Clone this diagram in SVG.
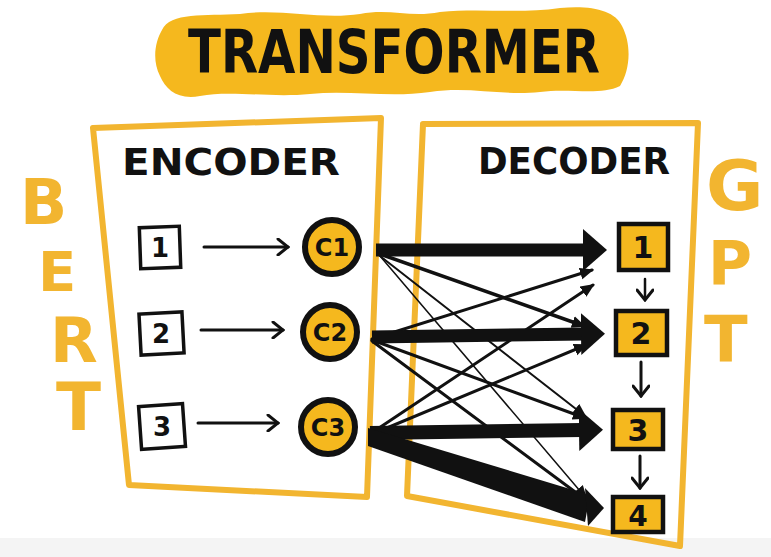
<svg xmlns="http://www.w3.org/2000/svg" width="771" height="557" viewBox="0 0 771 557">
<style>
.frame{fill:none;stroke:#F2B530;stroke-width:6;stroke-linejoin:round}
.brush{font-family:"DejaVu Sans","Liberation Sans",sans-serif;font-weight:bold;fill:#111}
.yl{font-family:"DejaVu Sans","Liberation Sans",sans-serif;font-weight:bold;fill:#F2B530}
.inbox{fill:#fff;stroke:#111;stroke-width:3.5}
.outbox{fill:#F5B81E;stroke:#111;stroke-width:4.5}
.circ{fill:#F5B81E;stroke:#111;stroke-width:6}
.thin{stroke:#111;fill:none;stroke-linecap:round}
.thick{stroke:#111;fill:none}
</style>
<defs>
<marker id="big" markerUnits="userSpaceOnUse" markerWidth="24" markerHeight="42" viewBox="0 0 24 42" refX="3" refY="21" orient="auto">
<path d="M0,0 L24,21 L0,42 z" fill="#111"/>
</marker>
<marker id="mid" markerUnits="userSpaceOnUse" markerWidth="14" markerHeight="14" viewBox="0 0 14 14" refX="12" refY="7" orient="auto">
<path d="M0,1 L14,7 L0,13 z" fill="#111"/>
</marker>
<marker id="open" markerUnits="userSpaceOnUse" markerWidth="14" markerHeight="18" viewBox="0 0 14 18" refX="12" refY="9" orient="auto">
<path d="M2,1 L12,9 L2,17" fill="none" stroke="#111" stroke-width="3" stroke-linecap="round"/>
</marker>
</defs>
<rect width="771" height="557" fill="#fff"/>
<rect x="0" y="538" width="771" height="19" fill="#f4f4f4"/>

<g id="title">
<path d="M162,30 C170,12 205,16 240,14 C280,8 320,20 360,14 C390,8 410,18 440,12 C480,8 520,14 560,8 C590,5 615,10 622,26 C632,45 630,70 620,86 C600,96 570,88 540,92 C500,96 470,86 430,92 C390,98 350,90 310,94 C270,98 230,90 200,96 C178,100 166,90 160,76 C152,60 155,42 162,30 z" fill="#F5B81E"/>
<text class="brush" x="188" y="73" font-size="60" textLength="412" lengthAdjust="spacingAndGlyphs">TRANSFORMER</text>
</g>

<g id="encoder">
<path class="frame" d="M93,128 L381,118 L367,497 L129,485 z"/>
<text class="brush" x="122" y="175" font-size="38" textLength="218" lengthAdjust="spacingAndGlyphs">ENCODER</text>
</g>
<g id="decoder">
<path class="frame" d="M423,124 L698,123 L680,546 L407,496 z"/>
<text class="brush" x="478" y="174" font-size="38" textLength="192" lengthAdjust="spacingAndGlyphs">DECODER</text>
</g>

<g id="bert">
<text class="yl" x="20" y="224" font-size="62">B</text>
<text class="yl" x="38" y="291" font-size="56">E</text>
<text class="yl" x="50" y="362" font-size="62">R</text>
<text class="yl" x="56" y="430" font-size="66">T</text>
</g>
<g id="gpt">
<text class="yl" x="706" y="210" font-size="70">G</text>
<text class="yl" x="708" y="284" font-size="60">P</text>
<text class="yl" x="704" y="362" font-size="64">T</text>
</g>

<g id="in1"><rect class="inbox" x="140" y="227" width="40" height="41" transform="rotate(-2 160 247)"/><text class="brush" x="160" y="257" font-size="26" text-anchor="middle">1</text></g>
<g id="in2"><rect class="inbox" x="140" y="313" width="43" height="41" transform="rotate(-3 161 333)"/><text class="brush" x="161" y="343" font-size="26" text-anchor="middle">2</text></g>
<g id="in3"><rect class="inbox" x="140" y="405" width="44" height="43" transform="rotate(-4 162 426)"/><text class="brush" x="162" y="436" font-size="26" text-anchor="middle">3</text></g>

<g id="c1"><circle class="circ" cx="332" cy="247" r="27"/><text class="brush" x="332" y="256" font-size="24" text-anchor="middle">C1</text></g>
<g id="c2"><circle class="circ" cx="330" cy="332" r="27"/><text class="brush" x="330" y="341" font-size="24" text-anchor="middle">C2</text></g>
<g id="c3"><circle class="circ" cx="328" cy="427" r="27"/><text class="brush" x="328" y="436" font-size="24" text-anchor="middle">C3</text></g>

<g id="out1"><rect class="outbox" x="619" y="224" width="49" height="46"/><text class="brush" x="643" y="258" font-size="30" text-anchor="middle">1</text></g>
<g id="out2"><rect class="outbox" x="616" y="311" width="51" height="44"/><text class="brush" x="641" y="344" font-size="30" text-anchor="middle">2</text></g>
<g id="out3"><rect class="outbox" x="613" y="410" width="50" height="39"/><text class="brush" x="638" y="441" font-size="30" text-anchor="middle">3</text></g>
<g id="out4"><rect class="outbox" x="613" y="497" width="50" height="35"/><text class="brush" x="638" y="526" font-size="28" text-anchor="middle">4</text></g>

<g id="connectors">
<line class="thin" x1="204" y1="247" x2="288" y2="247" stroke-width="3" marker-end="url(#open)"/>
<line class="thin" x1="201" y1="330" x2="283" y2="330" stroke-width="3" marker-end="url(#open)"/>
<line class="thin" x1="198" y1="423" x2="278" y2="423" stroke-width="3" marker-end="url(#open)"/>

<line class="thin" x1="380" y1="254" x2="584" y2="326" stroke-width="3.5" marker-end="url(#mid)"/>
<line class="thin" x1="380" y1="256" x2="585" y2="416" stroke-width="2" marker-end="url(#mid)"/>
<line class="thin" x1="380" y1="256" x2="586" y2="498" stroke-width="1.5" marker-end="url(#mid)"/>
<line class="thin" x1="372" y1="339" x2="592" y2="270" stroke-width="3" marker-end="url(#mid)"/>
<line class="thin" x1="372" y1="340" x2="585" y2="418" stroke-width="3" marker-end="url(#mid)"/>
<line class="thin" x1="372" y1="341" x2="586" y2="500" stroke-width="3" marker-end="url(#mid)"/>
<line class="thin" x1="370" y1="434" x2="593" y2="285" stroke-width="3" marker-end="url(#mid)"/>
<line class="thin" x1="370" y1="435" x2="586" y2="345" stroke-width="3" marker-end="url(#mid)"/>

<line class="thick" x1="376" y1="250" x2="586" y2="250" stroke-width="13" marker-end="url(#big)"/>
<line class="thick" x1="372" y1="337" x2="584" y2="334" stroke-width="13" marker-end="url(#big)"/>
<line class="thick" x1="370" y1="433" x2="582" y2="430" stroke-width="14" marker-end="url(#big)"/>
<path d="M368,428 L590,495 L585,522 L368,446 z" fill="#111"/>
<path d="M585,488 L604,508 L588,526 z" fill="#111"/>

<line class="thin" x1="645" y1="279" x2="645" y2="300" stroke-width="2.5" marker-end="url(#open)"/>
<line class="thin" x1="641" y1="362" x2="641" y2="396" stroke-width="3" marker-end="url(#open)"/>
<line class="thin" x1="640" y1="456" x2="640" y2="488" stroke-width="3" marker-end="url(#open)"/>
</g>
</svg>
